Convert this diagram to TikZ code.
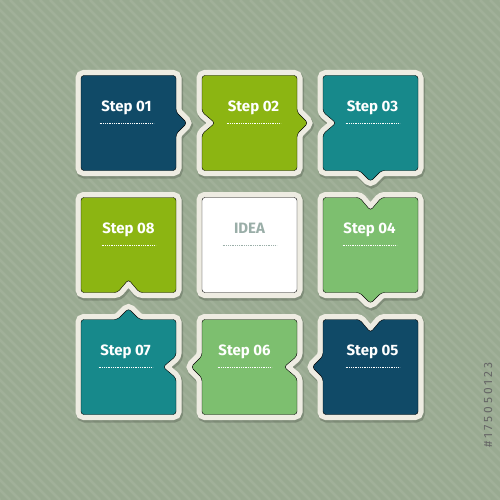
\documentclass[tikz,border=0pt]{standalone}
\usepackage{fontspec}
\setmainfont{Fira Sans}

\definecolor{bgcol}{HTML}{99AA91}
\definecolor{stripecol}{HTML}{A1B099}
\definecolor{framecol}{HTML}{EEECE2}
\definecolor{navy}{HTML}{104A67}
\definecolor{lime}{HTML}{8CB512}
\definecolor{teal}{HTML}{17898B}
\definecolor{leaf}{HTML}{7DBF6F}
\definecolor{ideagray}{HTML}{9AAEA8}

\tikzset{
  stepbox/.style={rounded corners=3pt, line join=miter,
    preaction={draw=black, draw opacity=0.18, line width=12pt,
      transform canvas={shift={(1pt,-2pt)}}},
    preaction={draw=framecol, line width=11pt}},
  % outline of one box: tab depth of top, right, bottom, left side (negative = notch)
  boxpath/.style n args={4}{insert path={(-47.5,-47.5) -- (-11,-47.5) -- (0,{-47.5-(#1)}) -- (11,-47.5)
    -- (47.5,-47.5) -- (47.5,-11) -- ({47.5+(#2)},0) -- (47.5,11)
    -- (47.5,47.5) -- (11,47.5) -- (0,{47.5+(#3)}) -- (-11,47.5)
    -- (-47.5,47.5) -- (-47.5,11) -- ({-47.5-(#4)},0) -- (-47.5,-11) -- cycle}},
  steplabel/.style={text=white, font=\bfseries\fontsize{15}{17}\selectfont,
    anchor=base, inner sep=0pt},
  dotrule/.style={white, line width=0.9pt, dash pattern=on 0.9pt off 0.9pt},
}

\begin{document}
\begin{tikzpicture}[x=1pt, y=-1pt]

  \newcommand\X{121}
  \newcommand\Y{122}

  \useasboundingbox (0,0) rectangle (500,500);
  \fill[bgcol] (0,0) rectangle (500,500);
  \begin{scope}
    \clip (0,0) rectangle (500,500);
    \foreach \k in {-500,-490,...,500}
      \draw[stripecol, line width=2.5pt] (\k,0) -- (\k+500,500);
  \end{scope}

  \draw[stepbox, fill=navy, shift={(128.5+0*\X,123+0*\Y)}, boxpath={0}{11}{0}{0}]; %% 01
  \draw[stepbox, fill=lime, shift={(128.5+1*\X,123+0*\Y)}, boxpath={0}{11}{0}{-13}]; %% 02
  \draw[stepbox, fill=teal, shift={(128.5+2*\X,123+0*\Y)}, boxpath={0}{0}{11}{-13}]; %% 03
  \draw[stepbox, fill=leaf, shift={(128.5+2*\X,123+1*\Y)}, boxpath={-13}{0}{11}{0}]; %% 04
  \draw[stepbox, fill=navy, shift={(128.5+2*\X,123+2*\Y)}, boxpath={-13}{0}{0}{11}]; %% 05
  \draw[stepbox, fill=leaf, shift={(128.5+1*\X,123+2*\Y)}, boxpath={0}{-13}{0}{11}]; %% 06
  \draw[stepbox, fill=teal, shift={(128.5+0*\X,123+2*\Y)}, boxpath={11}{-13}{0}{0}]; %% 07
  \draw[stepbox, fill=lime, shift={(128.5+0*\X,123+1*\Y)}, boxpath={0}{0}{-13}{0}]; %% 08
  \draw[stepbox, fill=white, shift={(128.5+1*\X,123+1*\Y)}, boxpath={0}{0}{0}{0}]; %% idea

  \node[steplabel] (step1) at (126.5+0*\X, 111.5+0*\Y) {Step 01};
  \node[steplabel] (step2) at (132.5+1*\X, 111.5+0*\Y) {Step 02};
  \node[steplabel] (step3) at (130.5+2*\X, 111.5+0*\Y) {Step 03};
  \node[steplabel] (step4) at (127.5+2*\X, 111.5+1*\Y) {Step 04};
  \node[steplabel] (step5) at (130.5+2*\X, 111.5+2*\Y) {Step 05};
  \node[steplabel] (step6) at (123.5+1*\X, 111.5+2*\Y) {Step 06};
  \node[steplabel] (step7) at (125.5+0*\X, 111.5+2*\Y) {Step 07};
  \node[steplabel] (step8) at (128.5+0*\X, 111.5+1*\Y) {Step 08};
  \node[steplabel, text=ideagray] (idea) at (128.5+1*\X, 111.5+1*\Y) {IDEA};

  \foreach \n in {step1,step2,step3,step4,step5,step6,step7,step8}
    \draw[dotrule] ([shift={(-27,12)}]\n.base) -- ([shift={(27,12)}]\n.base);
  \draw[dotrule, ideagray] ([shift={(-27,12)}]idea.base) -- ([shift={(27,12)}]idea.base);

  \node[rotate=90, text=black!60, font=\fontsize{12}{13}\selectfont\addfontfeature{LetterSpace=25}] (stockid) at (488,405) {\#175050123};

\end{tikzpicture}
\end{document}
